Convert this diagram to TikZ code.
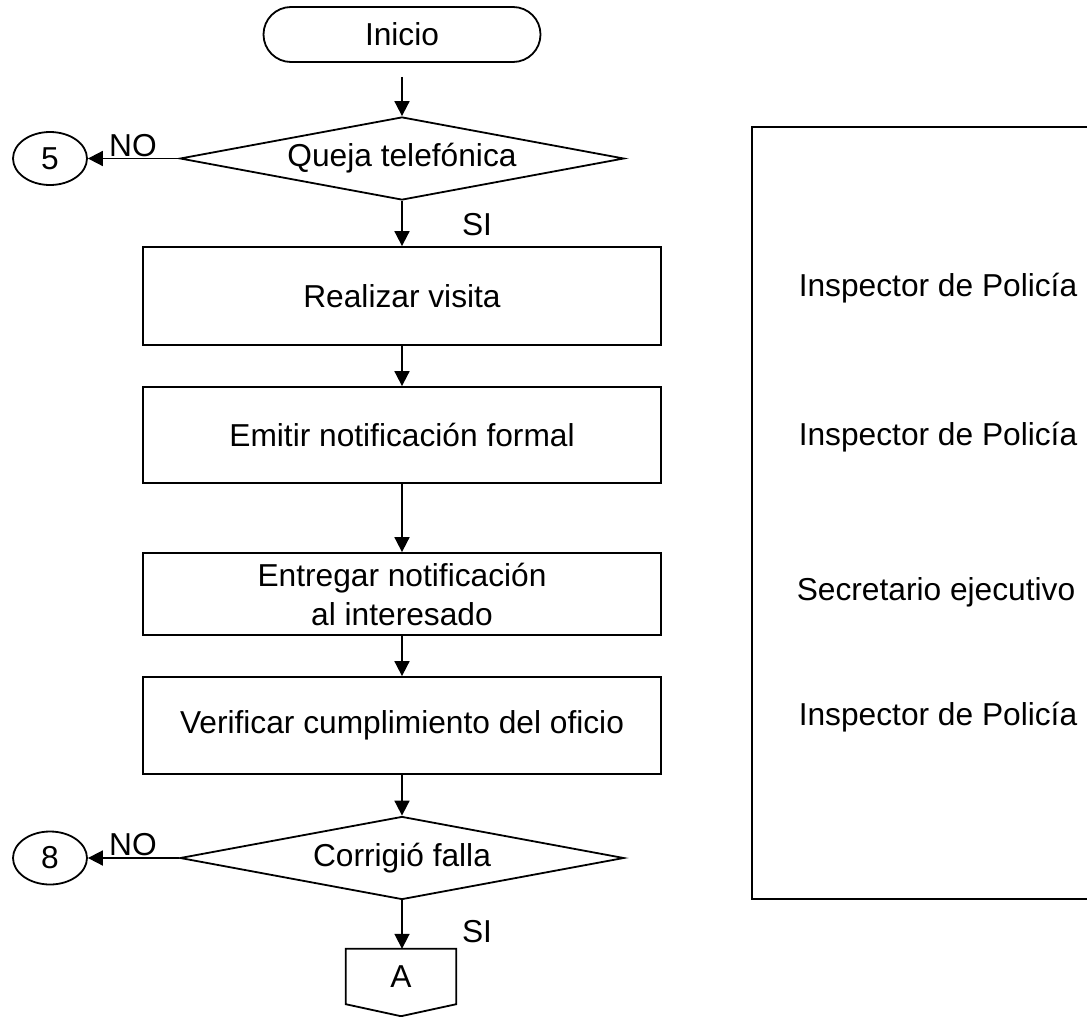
\documentclass[tikz,border=0pt]{standalone}
\usepackage{fontspec}
\setmainfont{Liberation Sans}
\usetikzlibrary{shapes.geometric,shapes.misc,arrows.meta}
\tikzset{
  base/.style={draw=black, line width=1.8pt, inner sep=0pt, font=\fontsize{31.7pt}{39pt}\selectfont},
  term/.style={base, rounded rectangle, minimum width=277pt, minimum height=55pt},
  dec/.style={base, diamond, shape aspect=5.4, minimum width=444pt, minimum height=83pt},
  proc/.style={base, rectangle, minimum width=518pt, align=center},
  conn/.style={base, ellipse, minimum width=74pt, minimum height=53pt},
  lbl/.style={inner sep=0pt, font=\fontsize{31.7pt}{39pt}\selectfont},
  flow/.style={line width=1.8pt, -{Triangle[length=15pt,width=15pt]}},
}
\begin{document}
\begin{tikzpicture}[x=1pt,y=-1pt]
\clip (0,0) rectangle (1087,1017);
\fill[white] (0,0) rectangle (1087,1017);
% flowchart nodes
\node[term] (inicio) at (402,34.5) {Inicio};
\node[dec] (d1) at (402,158.5) {Queja telefónica};
\node[conn] (c5) at (50,158.5) {5};
\node[proc, minimum height=98pt] (r1) at (402,296) {Realizar visita};
\node[proc, minimum height=96pt] (r2) at (402,435) {Emitir notificación formal};
\node[proc, minimum height=82pt] (r3) at (402,594) {Entregar notificación\\al interesado};
\node[proc, minimum height=97pt] (r4) at (402,725.5) {Verificar cumplimiento del oficio};
\node[dec] (d2) at (402,858) {Corrigió falla};
\node[conn] (c8) at (50,858) {8};
\node[lbl, minimum width=110pt, minimum height=55pt] (offA) at (401,976.5) {A};
\draw[line width=1.8pt] (offA.north west) -- (offA.north east) -- (offA.south east)
  -- ([yshift=-12pt]offA.south) -- (offA.south west) -- cycle;
% labels
\node[lbl] (no1) at (133,146) {NO};
\node[lbl] (si1) at (477,225) {SI};
\node[lbl] (no2) at (133,845) {NO};
\node[lbl] (si2) at (477,932) {SI};
% connectors
\draw[flow, shorten <=14pt] (inicio.south) -- (d1.north);
\draw[flow] (d1.west) -- (c5.east);
\draw[flow] (d1.south) -- (r1.north);
\draw[flow] (r1.south) -- (r2.north);
\draw[flow] (r2.south) -- (r3.north);
\draw[flow] (r3.south) -- (r4.north);
\draw[flow] (r4.south) -- (d2.north);
\draw[flow] (d2.west) -- (c8.east);
\draw[flow] (d2.south) -- (offA.north -| d2.south);
% responsible box
\draw[line width=1.8pt] (752,127) rectangle (1100,899);
\node[lbl] (resp1) at (938,288) {Inspector de Policía};
\node[lbl] (resp2) at (938,437) {Inspector de Policía};
\node[lbl] (resp3) at (936,592) {Secretario ejecutivo};
\node[lbl] (resp4) at (938,717) {Inspector de Policía};
\end{tikzpicture}
\end{document}
